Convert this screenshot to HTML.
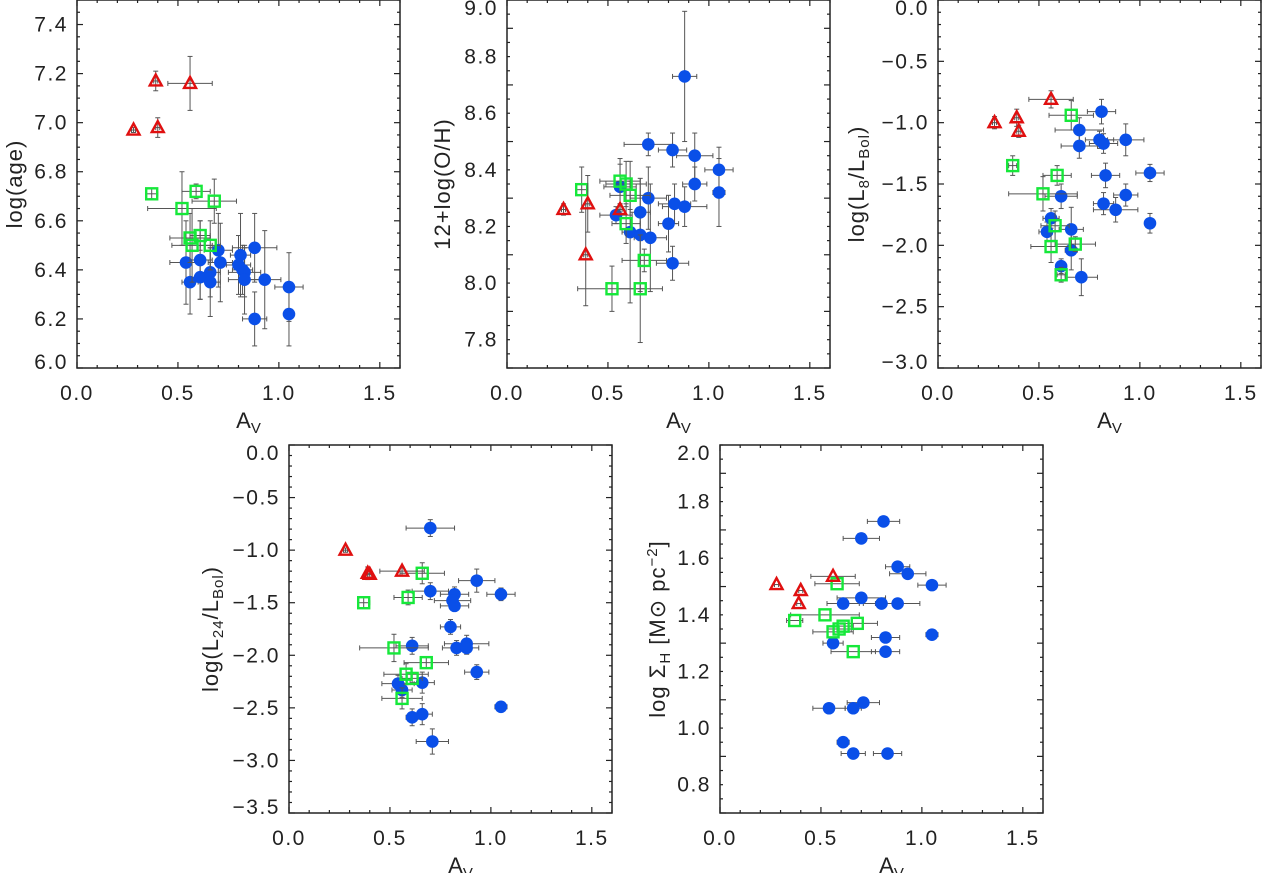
<!DOCTYPE html>
<html><head><meta charset="utf-8"><style>
body{margin:0;background:#fff}
svg{display:block}
text{font-family:"Liberation Sans",sans-serif;fill:#222}
</style></head><body>
<svg id="fig" width="1262" height="873" viewBox="0 0 1262 873" xmlns="http://www.w3.org/2000/svg"></svg>
<script>
// Panel 1: log(age)
const p1TriX=[0.28,0.39,0.40,0.56], p1TriY=[6.97,7.17,6.98,7.16];
const p1TriXe=[0.01,0.01,0.01,0.11], p1TriYe=[0.01,0.04,0.04,0.11];
const p1SqX=[0.37,0.52,0.59,0.68,0.56,0.61,0.57,0.66], p1SqY=[6.71,6.65,6.72,6.68,6.53,6.54,6.50,6.50];
const p1SqXe=[0.03,0.17,0.07,0.11,0.1,0.05,0.1,0.05], p1SqYe=[0.02,0.15,0.03,0.09,0.1,0.06,0.15,0.1];
const p1CX=[0.54,0.56,0.61,0.61,0.66,0.66,0.70,0.71,0.81,0.80,0.82,0.83,0.83,0.88,0.88,0.93,1.05,1.05];
const p1CY=[6.43,6.35,6.44,6.37,6.39,6.35,6.48,6.43,6.46,6.42,6.40,6.39,6.36,6.49,6.20,6.36,6.33,6.22];
const p1CXe=[0.08,0.04,0.06,0.05,0.05,0.05,0.07,0.06,0.05,0.06,0.05,0.08,0.08,0.11,0.06,0.08,0.07,0.01];
const p1CYe=[0.17,0.13,0.16,0.09,0.1,0.14,0.15,0.16,0.17,0.12,0.1,0.1,0.14,0.14,0.11,0.2,0.14,0.13];
// Panel 2: 12+log(O/H)
const p2TriX=[0.28,0.40,0.39,0.56], p2TriY=[8.26,8.28,8.10,8.26];
const p2TriXe=[0.01,0.01,0.01,0.01], p2TriYe=[0.02,0.10,0.18,0.02];
const p2SqX=[0.37,0.52,0.56,0.59,0.61,0.59,0.66,0.68], p2SqY=[8.33,7.98,8.36,8.35,8.31,8.21,7.98,8.08];
const p2SqXe=[0.03,0.17,0.1,0.1,0.1,0.07,0.11,0.11], p2SqYe=[0.08,0.08,0.08,0.08,0.05,0.07,0.19,0.04];
const p2CX=[0.54,0.56,0.61,0.66,0.66,0.70,0.70,0.71,0.80,0.82,0.82,0.83,0.88,0.88,0.93,0.93,1.05,1.05];
const p2CY=[8.24,8.34,8.18,8.25,8.17,8.49,8.30,8.16,8.21,8.47,8.07,8.28,8.73,8.27,8.45,8.35,8.40,8.32];
const p2CXe=[0.08,0.08,0.04,0.05,0.05,0.12,0.09,0.08,0.05,0.07,0.08,0.08,0.06,0.11,0.09,0.06,0.07,0.03];
const p2CYe=[0.03,0.08,0.25,0.1,0.2,0.04,0.11,0.19,0.1,0.06,0.06,0.07,0.23,0.07,0.08,0.06,0.08,0.12];
// Panel 3: log(L8/LBol)
const p3TriX=[0.28,0.39,0.40,0.56], p3TriY=[-1.00,-0.96,-1.07,-0.81];
const p3TriXe=[0.01,0.01,0.01,0.11], p3TriYe=[0.05,0.07,0.05,0.07];
const p3SqX=[0.37,0.52,0.59,0.66,0.58,0.56,0.68,0.61], p3SqY=[-1.35,-1.58,-1.43,-0.94,-1.84,-2.01,-1.99,-2.24];
const p3SqXe=[0.02,0.17,0.07,0.11,0.07,0.1,0.1,0.02], p3SqYe=[0.08,0.14,0.08,0.12,0.12,0.13,0.06,0.06];
const p3CX=[0.54,0.56,0.61,0.61,0.66,0.66,0.70,0.70,0.71,0.80,0.82,0.81,0.82,0.83,0.88,0.93,0.93,1.05,1.05];
const p3CY=[-1.89,-1.78,-1.60,-2.17,-1.87,-2.04,-1.06,-1.19,-2.26,-1.14,-1.17,-0.91,-1.66,-1.43,-1.71,-1.14,-1.59,-1.41,-1.82];
const p3CXe=[0.04,0.04,0.08,0.02,0.06,0.03,0.12,0.09,0.08,0.07,0.07,0.07,0.05,0.07,0.11,0.09,0.06,0.07,0.01];
const p3CYe=[0.08,0.08,0.1,0.06,0.18,0.16,0.1,0.1,0.15,0.07,0.08,0.1,0.09,0.1,0.1,0.13,0.09,0.07,0.08];
// Panel 4: log(L24/LBol)
const p4TriX=[0.28,0.39,0.40,0.56], p4TriY=[-1.00,-1.22,-1.23,-1.20];
const p4TriXe=[0.01,0.01,0.01,0.11], p4TriYe=[0.02,0.06,0.04,0.04];
const p4SqX=[0.37,0.59,0.66,0.52,0.68,0.58,0.61,0.56], p4SqY=[-1.50,-1.45,-1.22,-1.93,-2.07,-2.18,-2.22,-2.41];
const p4SqXe=[0.03,0.07,0.11,0.17,0.11,0.11,0.05,0.1], p4SqYe=[0.05,0.07,0.1,0.13,0.05,0.1,0.05,0.1];
const p4CX=[0.70,0.70,0.93,1.05,0.82,0.81,0.82,0.80,0.61,0.88,0.83,0.88,0.93,0.54,0.56,0.66,0.61,0.66,0.71,1.05];
const p4CY=[-0.79,-1.39,-1.29,-1.42,-1.42,-1.48,-1.53,-1.73,-1.91,-1.89,-1.93,-1.93,-2.16,-2.27,-2.33,-2.26,-2.59,-2.56,-2.82,-2.49];
const p4CXe=[0.12,0.09,0.09,0.07,0.07,0.09,0.07,0.05,0.08,0.11,0.07,0.06,0.06,0.08,0.05,0.06,0.03,0.05,0.08,0.03];
const p4CYe=[0.08,0.08,0.11,0.06,0.07,0.07,0.05,0.07,0.08,0.08,0.07,0.06,0.07,0.08,0.07,0.1,0.08,0.1,0.12,0.05];
// Panel 5: log Sigma_H
const p5TriX=[0.28,0.40,0.39,0.56], p5TriY=[1.507,1.486,1.44,1.536];
const p5TriXe=[0.01,0.01,0.01,0.11], p5TriYe=[0,0,0,0];
const p5SqX=[0.37,0.52,0.58,0.56,0.59,0.61,0.68,0.66], p5SqY=[1.38,1.40,1.51,1.34,1.35,1.36,1.37,1.27];
const p5SqXe=[0.04,0.17,0.11,0.1,0.06,0.05,0.1,0.11], p5SqYe=[0,0,0,0,0,0,0,0];
const p5CX=[0.81,0.70,0.88,0.93,1.05,0.70,0.61,0.80,0.88,0.82,1.05,0.56,0.82,0.71,0.54,0.66,0.61,0.66,0.83];
const p5CY=[1.73,1.67,1.57,1.545,1.505,1.46,1.44,1.44,1.44,1.32,1.33,1.30,1.27,1.09,1.07,1.07,0.95,0.91,0.91];
const p5CXe=[0.08,0.09,0.06,0.09,0.07,0.12,0.08,0.09,0.11,0.07,0.03,0.05,0.07,0.08,0.08,0.04,0.03,0.06,0.07];
const p5CYe=[0,0,0,0,0,0,0,0,0,0,0,0,0,0,0,0,0,0,0];

const NS="http://www.w3.org/2000/svg";
const svg=document.getElementById('fig');
function mk(tag,attrs,parent){const e=document.createElementNS(NS,tag);for(const k in attrs)e.setAttribute(k,attrs[k]);(parent||svg).appendChild(e);return e;}

const W=323,H=368;
function panel(cfg){
  const g=mk('g',{});
  
  
  const L=cfg.left,T=cfg.top;
  const sx=v=>L+v/1.6*W;
  const sy=v=>T+H-(v-cfg.ymin)/(cfg.ymax-cfg.ymin)*H;
  const tk=mk('g',{stroke:'#222','stroke-width':1.2},g);
  
  
  for(let i=0;i<=16;i++){
    const x=sx(i*0.1), len=(i%5===0)?6:3;
    mk('line',{x1:x,y1:T+H,x2:x,y2:T+H-len},tk);
    mk('line',{x1:x,y1:T,x2:x,y2:T+len},tk);
  }
  const nMin=Math.round((cfg.ymax-cfg.ymin)/cfg.yminor);
  for(let i=0;i<=nMin;i++){
    const v=cfg.ymin+i*cfg.yminor, y=sy(v);
    const maj=Math.abs(Math.round((v-cfg.ymin)/cfg.ymajor)*cfg.ymajor-(v-cfg.ymin))<1e-6;
    const len=maj?6:3;
    mk('line',{x1:L,y1:y,x2:L+len,y2:y},tk);
    mk('line',{x1:L+W,y1:y,x2:L+W-len,y2:y},tk);
  }
  ['0.0','0.5','1.0','1.5'].forEach((s,i)=>{
    const t=mk('text',{x:sx(i*0.5),y:T+H+32,'text-anchor':'middle','font-size':21,'letter-spacing':1.5},g);
    
    
    t.textContent=s;
  });
  cfg.ylabels.forEach(v=>{
    let y=sy(v); y=Math.max(T+8,Math.min(T+H-6,y));
    const t=mk('text',{x:L-9,y:y+7,'text-anchor':'end','font-size':21,'letter-spacing':1.5},g);
    
    
    t.textContent=v.toFixed(1).replace('-','\u2212');
  });
  const xt=mk('text',{x:L+W/2+10,y:T+H+60,'text-anchor':'middle','font-size':22},g);
  
  
  xt.innerHTML='A<tspan font-size="15" dy="5">V</tspan>';
  const yt=mk('text',{x:0,y:0,'text-anchor':'middle','font-size':22,'letter-spacing':1,transform:`translate(${cfg.ytx},${T+H/2}) rotate(-90)`},g);
  
  
  yt.innerHTML=cfg.ytitle;
  function series(X,Y,Xe,Ye,kind){
    const sg=mk('g',{},g);
    
    
    const eg=mk('g',{stroke:'#555','stroke-width':1},sg);
    X.forEach((xv,i)=>{
      const cx=sx(xv),cy=sy(Y[i]);
      if(Xe[i]>0){const a=sx(xv-Xe[i]),b=sx(xv+Xe[i]);
        mk('line',{x1:a,y1:cy,x2:b,y2:cy},eg);mk('line',{x1:a,y1:cy-2.5,x2:a,y2:cy+2.5},eg);mk('line',{x1:b,y1:cy-2.5,x2:b,y2:cy+2.5},eg);}
      if(Ye[i]>0){const a=sy(Y[i]-Ye[i]),b=sy(Y[i]+Ye[i]);
        mk('line',{x1:cx,y1:a,x2:cx,y2:b},eg);mk('line',{x1:cx-2.5,y1:a,x2:cx+2.5,y2:a},eg);mk('line',{x1:cx-2.5,y1:b,x2:cx+2.5,y2:b},eg);}
    });
    X.forEach((xv,i)=>{
      const cx=sx(xv),cy=sy(Y[i]);let m;
      if(kind==='circle') m=mk('circle',{cx,cy,r:6.3,fill:'#0a4fe8'},sg);
      else if(kind==='square') m=mk('rect',{x:cx-5.5,y:cy-5.5,width:11,height:11,fill:'none',stroke:'#16e83a','stroke-width':2.4},sg);
      else m=mk('polygon',{points:`${cx},${cy-6.5} ${cx-6},${cy+4.5} ${cx+6},${cy+4.5}`,fill:'none',stroke:'#e01010','stroke-width':2.4},sg);
      
      
    });
  }
  const s=cfg.s;
  series(s[0],s[1],s[2],s[3],'circle');
  series(s[4],s[5],s[6],s[7],'square');
  series(s[8],s[9],s[10],s[11],'triangle');
  const fr=mk('rect',{x:L,y:T,width:W,height:H,fill:'none',stroke:'#222','stroke-width':1.5},g);
  
  
}
const sub=(s)=>`<tspan font-size="15" dy="5">${s}</tspan><tspan dy="-5">`;
panel({name:'panel-age',left:77,top:0,ymin:6.0,ymax:7.5,ymajor:0.2,yminor:0.05,ylabels:[6.0,6.2,6.4,6.6,6.8,7.0,7.2,7.4],ytx:22,
  ytitle:'log(age)',s:[p1CX,p1CY,p1CXe,p1CYe,p1SqX,p1SqY,p1SqXe,p1SqYe,p1TriX,p1TriY,p1TriXe,p1TriYe]});
panel({name:'panel-oh',left:507,top:0,ymin:7.7,ymax:9.0,ymajor:0.2,yminor:0.05,ylabels:[7.8,8.0,8.2,8.4,8.6,8.8,9.0],ytx:450,
  ytitle:'12+log(O/H)',s:[p2CX,p2CY,p2CXe,p2CYe,p2SqX,p2SqY,p2SqXe,p2SqYe,p2TriX,p2TriY,p2TriXe,p2TriYe]});
panel({name:'panel-l8',left:938,top:0,ymin:-3.0,ymax:0.0,ymajor:0.5,yminor:0.1,ylabels:[-3.0,-2.5,-2.0,-1.5,-1.0,-0.5,0.0],ytx:864,
  ytitle:'log(L'+sub('8')+'/L'+sub('Bol')+')</tspan></tspan>',s:[p3CX,p3CY,p3CXe,p3CYe,p3SqX,p3SqY,p3SqXe,p3SqYe,p3TriX,p3TriY,p3TriXe,p3TriYe]});
panel({name:'panel-l24',left:289,top:445,ymin:-3.5,ymax:0.0,ymajor:0.5,yminor:0.1,ylabels:[-3.5,-3.0,-2.5,-2.0,-1.5,-1.0,-0.5,0.0],ytx:218,
  ytitle:'log(L'+sub('24')+'/L'+sub('Bol')+')</tspan></tspan>',s:[p4CX,p4CY,p4CXe,p4CYe,p4SqX,p4SqY,p4SqXe,p4SqYe,p4TriX,p4TriY,p4TriXe,p4TriYe]});
panel({name:'panel-sigma',left:720,top:445,ymin:0.7,ymax:2.0,ymajor:0.2,yminor:0.05,ylabels:[0.8,1.0,1.2,1.4,1.6,1.8,2.0],ytx:665,
  ytitle:'log \u03A3<tspan font-size="15" dy="5">H</tspan><tspan dy="-5"> [M\u2299 pc</tspan><tspan font-size="15" dy="-8">\u22122</tspan><tspan dy="8">]</tspan>',
  s:[p5CX,p5CY,p5CXe,p5CYe,p5SqX,p5SqY,p5SqXe,p5SqYe,p5TriX,p5TriY,p5TriXe,p5TriYe]});
</script>
</body></html>
